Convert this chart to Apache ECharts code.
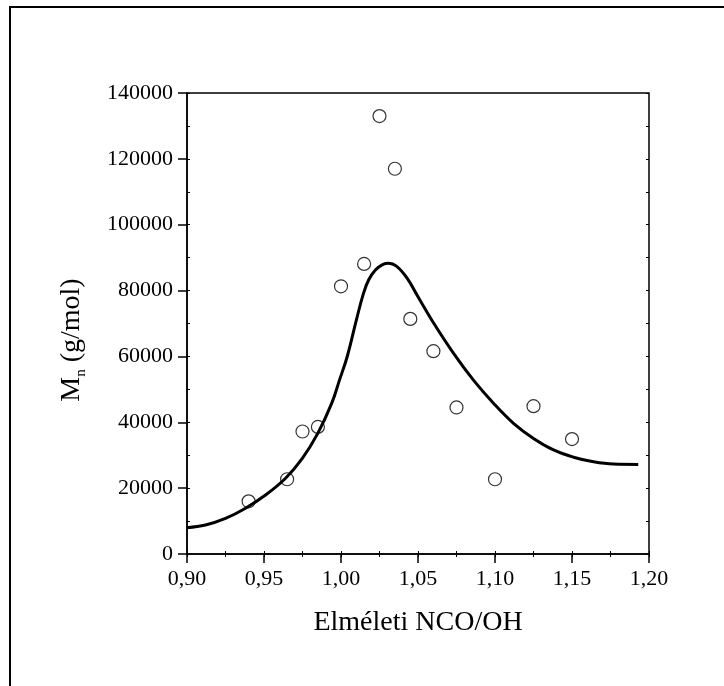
<!DOCTYPE html>
<html>
<head>
<meta charset="utf-8">
<script src="https://cdn.jsdelivr.net/npm/echarts@6/dist/echarts.min.js"></script>
<style>
  html, body { margin: 0; padding: 0; background: #fff; }
  #chart { width: 724px; height: 686px; }
</style>
</head>
<body>
<div id="chart"></div>
<script>
// measured points
var pointX = [0.94, 0.965, 0.975, 0.985, 1.00, 1.015, 1.025, 1.035, 1.045, 1.06, 1.075, 1.10, 1.125, 1.15];
var pointY = [16000, 22700, 37200, 38600, 81300, 88100, 133000, 117000, 71400, 61600, 44500, 22700, 44900, 34900];

// fitted curve
var curveX = [0.900, 0.912, 0.925, 0.938, 0.951, 0.964, 0.975, 0.985, 0.994, 0.999, 1.004, 1.010, 1.0145, 1.018, 1.0225, 1.027, 1.031, 1.036, 1.043, 1.050, 1.059, 1.073, 1.086, 1.099, 1.112, 1.125, 1.138, 1.151, 1.164, 1.177, 1.193];
var curveY = [8000, 8800, 10800, 13900, 17900, 23000, 29100, 36700, 45800, 52800, 59900, 71100, 79000, 83300, 86300, 87900, 88300, 87400, 83700, 78100, 71000, 61000, 52800, 45800, 39700, 35100, 31600, 29400, 28000, 27300, 27200];

var xTicks = { min: 0.9, max: 1.2, step: 0.05 };
var yTicks = { min: 0, max: 140000, step: 20000 };

var font = 'Liberation Serif, Times New Roman, serif';

var myChart = echarts.init(document.getElementById('chart'));

function zip(a, b) {
	var out = [];
	for (var i = 0; i < a.length; i++) out.push([a[i], b[i]]);
	return out;
}

var thinTicks = {
	show: true,
	inside: true,
	length: 3,
	lineStyle: { color: '#000', width: 1 }
};

option = {
	backgroundColor: '#fff',
	animation: false,
	grid: {
		left: 187,
		top: 93,
		right: 75,
		bottom: 132,
		show: true,
		borderColor: '#000',
		borderWidth: 1.5,
		backgroundColor: 'transparent'
	},
	xAxis: [{
		type: 'value',
		position: 'bottom',
		min: xTicks.min,
		max: xTicks.max,
		interval: xTicks.step,
		name: 'Elméleti NCO/OH',
		nameLocation: 'middle',
		nameGap: 55,
		nameTextStyle: { fontFamily: font, fontSize: 28, color: '#000' },
		axisLine: { show: true, lineStyle: { color: '#000', width: 1.5 } },
		axisTick: { show: true, inside: false, length: 9, lineStyle: { color: '#000', width: 1.5 } },
		axisLabel: {
			margin: 14,
			fontFamily: font,
			fontSize: 22,
			color: '#000',
			formatter: function(v) { return v.toFixed(2).replace('.', ','); }
		},
		splitLine: { show: false }
	}, {
		type: 'value',
		position: 'top',
		min: xTicks.min,
		max: xTicks.max,
		interval: xTicks.step / 2,
		axisLine: { show: false },
		axisTick: thinTicks,
		axisLabel: { show: false },
		splitLine: { show: false }
	}, {
		type: 'value',
		position: 'bottom',
		min: xTicks.min,
		max: xTicks.max,
		interval: xTicks.step / 2,
		axisLine: { show: false },
		axisTick: thinTicks,
		axisLabel: { show: false },
		splitLine: { show: false }
	}],
	yAxis: [{
		type: 'value',
		position: 'left',
		min: yTicks.min,
		max: yTicks.max,
		interval: yTicks.step,
		axisLine: { show: true, lineStyle: { color: '#000', width: 1.5 } },
		axisTick: { show: true, inside: false, length: 9, lineStyle: { color: '#000', width: 1.5 } },
		axisLabel: {
			margin: 14,
			fontFamily: font,
			fontSize: 22,
			color: '#000',
			formatter: function(v) { return String(v); }
		},
		splitLine: { show: false }
	}, {
		type: 'value',
		position: 'right',
		min: yTicks.min,
		max: yTicks.max,
		interval: yTicks.step / 2,
		axisLine: { show: false },
		axisTick: thinTicks,
		axisLabel: { show: false },
		splitLine: { show: false }
	}, {
		type: 'value',
		position: 'left',
		min: yTicks.min,
		max: yTicks.max,
		interval: yTicks.step / 2,
		axisLine: { show: false },
		axisTick: thinTicks,
		axisLabel: { show: false },
		splitLine: { show: false }
	}],
	graphic: [{
		type: 'rect',
		silent: true,
		shape: { x: 10, y: 7, width: 800, height: 800 },
		style: { fill: 'none', stroke: '#000', lineWidth: 2 }
	}, {
		// y axis title with subscript
		type: 'text',
		x: 72,
		y: 340,
		rotation: Math.PI / 2,
		style: {
			text: '{m|M}{s|n}{m| (g/mol)}',
			align: 'center',
			verticalAlign: 'middle',
			fill: '#000',
			rich: {
				m: { fontFamily: font, fontSize: 28, lineHeight: 34, fill: '#000' },
				s: { fontFamily: font, fontSize: 15, lineHeight: 15, verticalAlign: 'bottom', fill: '#000' }
			}
		}
	}],
	series: [{
		type: 'line',
		data: zip(curveX, curveY),
		smooth: 0.4,
		showSymbol: false,
		lineStyle: { color: '#000', width: 3 },
		z: 2
	}, {
		type: 'scatter',
		data: zip(pointX, pointY),
		symbol: 'circle',
		symbolSize: 13,
		itemStyle: { color: 'rgba(255,255,255,0)', borderColor: '#000', borderWidth: 1.2 },
		z: 3
	}]
};

myChart.setOption(option);

window.addEventListener('resize', function() {
	myChart.resize();
});
</script>
</body>
</html>
